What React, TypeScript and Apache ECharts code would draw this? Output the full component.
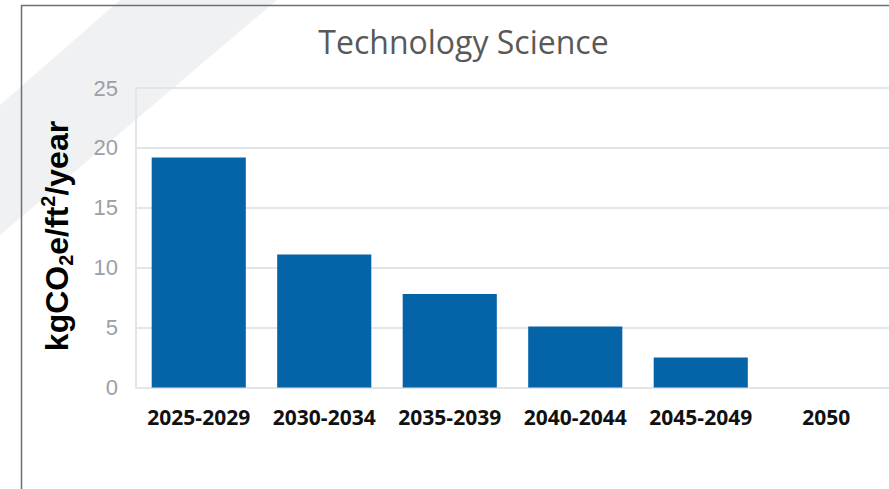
import React, { useEffect, useRef } from "react";
import * as echarts from "echarts";

const categories = ["2025-2029", "2030-2034", "2035-2039", "2040-2044", "2045-2049", "2050"];
const values = [19.2, 11.1, 7.8, 5.1, 2.5, 0];
const titleText = "Technology Science";
const yMin = 0;
const yMax = 25;
const yInterval = 5;

export default function App() {
  const ref = useRef<HTMLDivElement>(null);
  useEffect(() => {
    if (!ref.current) return;
    const chart = echarts.init(ref.current, undefined, { renderer: "svg" });
    chart.setOption({
      animation: false,
      backgroundColor: "#ffffff",
      grid: { left: 136, right: 0, top: 88, bottom: 101.5, containLabel: false },
      xAxis: {
        type: "category",
        data: categories,
        axisLine: { show: true, lineStyle: { color: "#e3e6e8", width: 2 } },
        axisTick: { show: false },
        axisLabel: {
          color: "#111111",
          fontFamily: "Open Sans",
          fontWeight: "bold",
          fontSize: 21,
          margin: 19,
          interval: 0,
        },
      },
      yAxis: {
        type: "value",
        min: yMin,
        max: yMax,
        interval: yInterval,
        axisLine: { show: true, lineStyle: { color: "#e3e6e8", width: 2 } },
        axisTick: { show: false },
        splitLine: { show: true, lineStyle: { color: "#e3e6e8", width: 2 } },
        axisLabel: {
          color: "#9aa0a6",
          fontFamily: "Liberation Sans",
          fontSize: 22,
          margin: 18,
        },
      },
      series: [
        {
          type: "bar",
          data: values,
          barCategoryGap: "25%",
          itemStyle: { color: "#0563a8" },
          z: 3,
        },
      ],
      graphic: [
        {
          type: "polygon",
          z: -10,
          silent: true,
          shape: { points: [[120, 0], [277, 0], [0, 235], [0, 105]] },
          style: { fill: "#f0f1f3" },
        },
        {
          type: "line",
          z: 10,
          shape: { x1: 21, y1: 5.5, x2: 889, y2: 5.5 },
          style: { stroke: "#6d7177", lineWidth: 1.5 },
        },
        {
          type: "line",
          z: 10,
          shape: { x1: 21.5, y1: 5, x2: 21.5, y2: 489 },
          style: { stroke: "#6d7177", lineWidth: 1.5 },
        },
        {
          type: "text",
          z: 10,
          x: 463.5,
          y: 41,
          style: {
            text: titleText,
            fill: "#595959",
            font: "32px 'Open Sans'",
            textAlign: "center",
            textVerticalAlign: "middle",
          },
        },
        {
          type: "text",
          z: 10,
          x: 57,
          y: 236,
          rotation: Math.PI / 2,
          style: {
            text: "{a|kgCO}{sub|2}{a|e/ft}{sup|2}{a|/year}",
            textAlign: "center",
            textVerticalAlign: "middle",
            rich: {
              a: { fontFamily: "Liberation Sans", fontWeight: "bold", fontSize: 32, fill: "#000000", lineHeight: 38 },
              sub: { fontFamily: "Liberation Sans", fontWeight: "bold", fontSize: 20, fill: "#000000", lineHeight: 38, verticalAlign: "bottom" },
              sup: { fontFamily: "Liberation Sans", fontWeight: "bold", fontSize: 20, fill: "#000000", lineHeight: 38, verticalAlign: "top" },
            },
          },
        },
      ],
    });
    return () => chart.dispose();
  }, []);
  return (
    <div
      ref={ref}
      style={{ position: "fixed", left: 0, top: 0, width: 889, height: 489 }}
    />
  );
}
